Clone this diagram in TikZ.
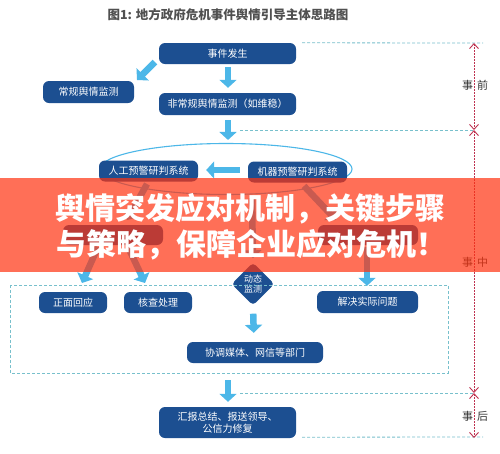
\documentclass[tikz,border=0pt]{standalone}
\usepackage{fontspec}
\setmainfont{Noto Sans CJK SC}
\newfontfamily\cjk{Noto Sans CJK SC}
\usetikzlibrary{arrows.meta,shapes.geometric}
\definecolor{dblue}{RGB}{28,79,145}
\definecolor{lblue}{RGB}{76,183,232}
\definecolor{teal}{RGB}{120,192,204}
\definecolor{dimred}{RGB}{190,50,80}
\definecolor{banner}{RGB}{255,51,16}
\definecolor{titlegray}{RGB}{80,80,80}
\tikzset{
  box/.style={fill=dblue, rounded corners=6pt, text=white, inner sep=0pt,
    font=\cjk\fontsize{10}{12}\selectfont, align=center},
  barrow/.style={draw=lblue, line width=6.5pt,
    -{Triangle[width=17pt,length=8pt]}},
  tealdash/.style={draw=teal, line width=0.8pt, dash pattern=on 3pt off 2pt},
  dimline/.style={draw=dimred, line width=0.9pt, dash pattern=on 1.5pt off 1.5pt,
    {Straight Barb[length=5pt,width=9pt]}-{Straight Barb[length=5pt,width=9pt]}},
  phase/.style={font=\cjk\fontsize{11}{13}\selectfont, text=black!80},
  bannertext/.style={font=\cjk\bfseries\fontsize{30}{34}\selectfont, text=white}
}
\begin{document}
\begin{tikzpicture}[x=1pt,y=-1pt]
\useasboundingbox (0,0) rectangle (500,453);
\fill[white] (0,0) rectangle (500,453);

% title
\node[font=\cjk\bfseries\fontsize{12.5}{14}\selectfont, text=titlegray] (title) at (228,15) {图1: 地方政府危机事件舆情引导主体思路图};

% top boxes
\node[box, minimum width=137pt, minimum height=21pt] (ev) at (227.5,53.5) {事件发生};
\node[box, minimum width=91pt, minimum height=22pt] (reg) at (88.5,92) {常规舆情监测};
\node[box, minimum width=137pt, minimum height=22pt] (nonreg) at (227.5,104) {非常规舆情监测（如维稳）};

% ellipse with systems
\node[ellipse, draw=lblue, line width=1.1pt, minimum width=252pt, minimum height=51pt, inner sep=0pt] (ell) at (226,169) {};
\node[box, minimum width=99pt, minimum height=21pt] (ai) at (148.5,171) {人工预警研判系统};
\node[box, minimum width=99pt, minimum height=21pt] (mach) at (297.5,172) {机器预警研判系统};

% boxes hidden under the banner
\node[box, minimum width=100pt, minimum height=20pt] (lbox) at (113,235) {};
\node[box, minimum width=100pt, minimum height=20pt] (rbox) at (368,235) {};

% dynamic monitoring diamond
\node[diamond, fill=dblue, rounded corners=4pt, minimum size=43pt, inner sep=0pt,
  text=white, align=center, font=\cjk\fontsize{9}{10.5}\selectfont] (dyn) at (253,284) {动态\\监测};

% dashed frame
\draw[tealdash] (10,285) rectangle (448,373);
\node[box, minimum width=68pt, minimum height=21pt] (resp) at (73,302.5) {正面回应};
\node[box, minimum width=68pt, minimum height=21pt] (check) at (158,302.5) {核查处理};
\node[box, minimum width=101pt, minimum height=22pt] (solve) at (367.5,302) {解决实际问题};
\node[box, minimum width=136pt, minimum height=21pt] (coord) at (255,352.5) {协调媒体、网信等部门};
\node[box, minimum width=137pt, minimum height=31pt] (report) at (227.5,422.5) {汇报总结、报送领导、\\公信力修复};

% block arrows
\coordinate (a1s) at (155,62);
\coordinate (a1e) at (137,80);
\draw[barrow] (a1s) -- (a1e);
\draw[barrow, shorten <=3pt, shorten >=5pt] (ev.south -| 228,0) -- (nonreg.north -| 228,0);
\draw[barrow, shorten <=5pt, shorten >=3pt] (nonreg.south -| 228,0) -- (ell.north -| 228,0);
\draw[barrow, shorten <=8pt, shorten >=8pt] (mach.west |- 0,170) -- (ai.east |- 0,170);
\coordinate (a2s) at (147,184);
\coordinate (a2e) at (127,220);
\draw[barrow] (a2s) -- (a2e);
\coordinate (a3s) at (304,186);
\coordinate (a3e) at (336,220);
\draw[barrow] (a3s) -- (a3e);
\draw[barrow, shorten <=3pt, shorten >=4pt] (ell.south -| 252,0) -- (dyn.north);
\coordinate (a4s) at (98,247);
\coordinate (a4e) at (82,283);
\draw[barrow] (a4s) -- (a4e);
\coordinate (a5s) at (128,247);
\coordinate (a5e) at (145,283);
\draw[barrow] (a5s) -- (a5e);
\draw[barrow, shorten <=2pt, shorten >=5pt] (rbox.south -| 367,0) -- (solve.north -| 367,0);
\draw[barrow, shorten <=8pt, shorten >=9pt] (dyn.south) -- (coord.north -| 254,0);
\draw[barrow, shorten <=17pt, shorten >=5pt] (coord.south -| 228,0) -- (report.north -| 228,0);

% phase guide lines
\coordinate (p0) at (474,43);
\coordinate (p1) at (474,130);
\coordinate (p2) at (474,393);
\coordinate (p3) at (474,438);
\draw[tealdash] (ev.north east) ++(6,0) -- (483,43);
\draw[tealdash] (240,130) -- (p1);
\draw[tealdash] (240,393) -- (p2);
\draw[tealdash] (report.south east) ++(6,-1) -- (483,437);
\draw[dimline] (p0) -- (p1);
\draw[dimline] (p1) -- (p2);
\draw[dimline] (p2) -- (p3);
\node[phase] (before) at (475,85) {事\hspace{4pt}前};
\node[phase] (during) at (475,262) {事\hspace{4pt}中};
\node[phase] (after) at (475,416) {事\hspace{4pt}后};

% banner overlay
\fill[banner, fill opacity=0.7] (0,178) rectangle (500,272);
\node[bannertext] (b1) at (250,209) {舆情突发应对机制，关键步骤};
\node[bannertext] (b2) at (251,245) {与策略，保障企业应对危机！};
\end{tikzpicture}
\end{document}
